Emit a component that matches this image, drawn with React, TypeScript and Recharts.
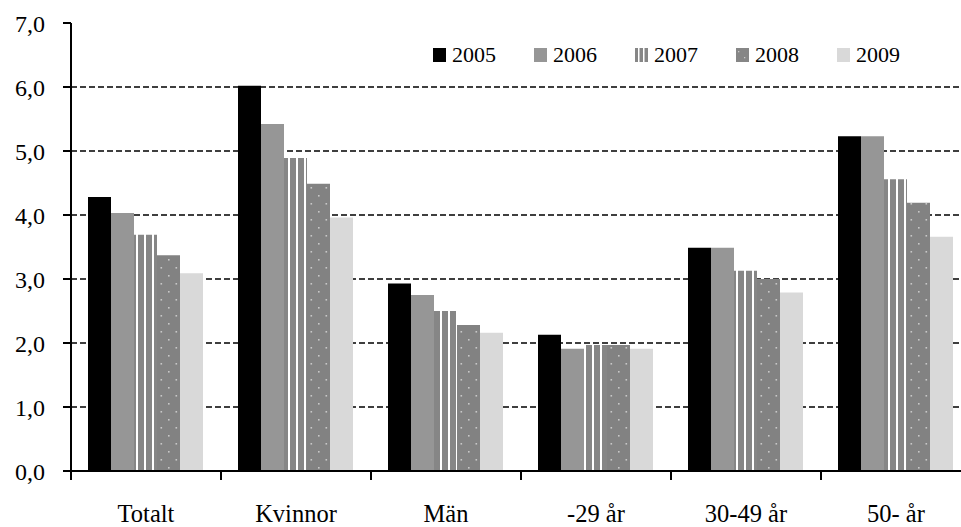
import { Bar, BarChart, CartesianGrid, Legend, XAxis, YAxis } from "recharts"

const categories = ["Totalt", "Kvinnor", "Män", "-29 år", "30-49 år", "50- år"]
const years = ["2005", "2006", "2007", "2008", "2009"]

const v2005 = [4.28, 6.02, 2.93, 2.13, 3.49, 5.23]
const v2006 = [4.03, 5.42, 2.75, 1.91, 3.49, 5.23]
const v2007 = [3.69, 4.89, 2.5, 1.97, 3.13, 4.56]
const v2008 = [3.37, 4.49, 2.28, 1.97, 3.0, 4.19]
const v2009 = [3.09, 3.96, 2.16, 1.91, 2.79, 3.66]

const yTicks = [0, 1, 2, 3, 4, 5, 6, 7]
const gridValues = [1, 2, 3, 4, 5, 6]

const data = categories.map((name, i) => ({
    name,
    "2005": v2005[i],
    "2006": v2006[i],
    "2007": v2007[i],
    "2008": v2008[i],
    "2009": v2009[i],
}))

const fills: Record<string, string> = {
    "2005": "#000000",
    "2006": "#969696",
    "2007": "url(#stripes)",
    "2008": "url(#dots)",
    "2009": "#d9d9d9",
}

const FONT = "'Liberation Serif', 'Times New Roman', serif"

function Swatch({ year }: { year: string }) {
    if (year === "2007") {
        return (
            <svg width={13} height={14} style={{ display: "block" }}>
                <rect width={13} height={14} fill="#868686" />
                <rect x={3} width={1.5} height={14} fill="#fff" />
                <rect x={8} width={1.5} height={14} fill="#fff" />
            </svg>
        )
    }
    if (year === "2008") {
        return (
            <svg width={13} height={14} style={{ display: "block" }}>
                <rect width={13} height={14} fill="#868686" />
                <rect x={2} y={3} width={1.3} height={1.3} fill="#c8c8c8" />
                <rect x={8} y={9} width={1.3} height={1.3} fill="#c8c8c8" />
            </svg>
        )
    }
    return (
        <svg width={13} height={14} style={{ display: "block" }}>
            <rect width={13} height={14} fill={fills[year]} />
        </svg>
    )
}

function renderLegend() {
    return (
        <div style={{ display: "flex", fontFamily: FONT, fontSize: 22, color: "#000" }}>
            {years.map((y) => (
                <div key={y} style={{ display: "flex", alignItems: "center", width: 101 }}>
                    <Swatch year={y} />
                    <span style={{ marginLeft: 6, lineHeight: "22px" }}>{y}</span>
                </div>
            ))}
        </div>
    )
}

function CategoryTick(props: any) {
    const { x, y, payload } = props
    return (
        <g>
            <line x1={x - 75} y1={y} x2={x - 75} y2={y + 9} stroke="#000" strokeWidth={2} />
            <text x={x} y={y + 51} textAnchor="middle" fontFamily={FONT} fontSize={24.5} fill="#000">
                {payload.value}
            </text>
        </g>
    )
}

export default function App() {
    return (
        <div style={{ position: "absolute", left: 0, top: 0, width: 961, height: 527, overflow: "hidden", background: "#fff" }}>
            <BarChart
                width={975}
                height={527}
                data={data}
                margin={{ top: 23, right: 4, left: 0, bottom: 0 }}
                barCategoryGap={17}
                barGap={0}
            >
                <defs>
                    <pattern id="stripes" patternUnits="userSpaceOnUse" width={8} height={8}>
                        <rect width={8} height={8} fill="#868686" />
                        <rect x={0} width={2} height={8} fill="#ffffff" />
                    </pattern>
                    <pattern id="dots" patternUnits="userSpaceOnUse" width={15} height={16}>
                        <rect width={15} height={16} fill="#828282" />
                        <rect x={3} y={3} width={1.6} height={1.6} fill="#c8c8c8" />
                        <rect x={10.5} y={11} width={1.6} height={1.6} fill="#c8c8c8" />
                    </pattern>
                </defs>
                <CartesianGrid
                    vertical={false}
                    horizontalValues={gridValues}
                    stroke="#000"
                    strokeWidth={1.5}
                    strokeDasharray="6 3"
                />
                <XAxis
                    dataKey="name"
                    height={56}
                    tickLine={false}
                    tickSize={0}
                    tickMargin={0}
                    axisLine={{ stroke: "#000", strokeWidth: 2 }}
                    tick={<CategoryTick />}
                    interval={0}
                />
                <YAxis
                    width={71}
                    domain={[0, 7]}
                    ticks={yTicks}
                    interval={0}
                    tickSize={8}
                    tickMargin={18}
                    axisLine={{ stroke: "#000", strokeWidth: 2 }}
                    tickLine={{ stroke: "#000", strokeWidth: 2 }}
                    tick={{ fill: "#000", fontSize: 24, fontFamily: FONT }}
                    tickFormatter={(v: number) => v.toFixed(1).replace(".", ",")}
                />
                <Legend
                    layout="horizontal"
                    verticalAlign="middle"
                    align="center"
                    content={renderLegend}
                    wrapperStyle={{ top: 44, left: 433, width: "auto", height: "auto" }}
                />
                {years.map((y) => (
                    <Bar key={y} dataKey={y} fill={fills[y]} isAnimationActive={false} />
                ))}
            </BarChart>
        </div>
    )
}
